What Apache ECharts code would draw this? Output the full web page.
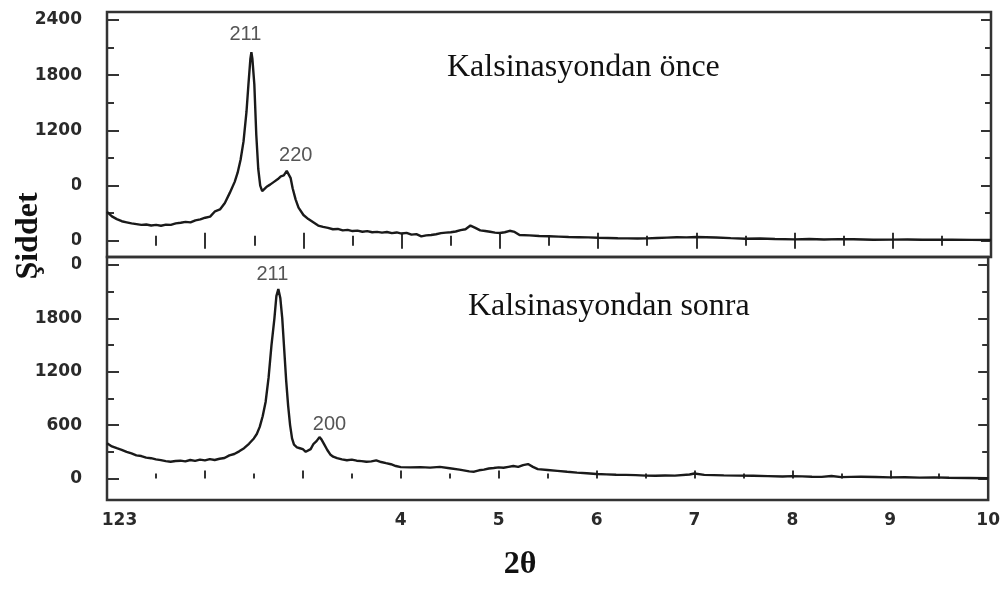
<!DOCTYPE html>
<html><head><meta charset="utf-8">
<script src="https://cdn.jsdelivr.net/npm/echarts@6/dist/echarts.min.js"></script>
<style>html,body{margin:0;padding:0;background:#fff}#c{width:1003px;height:605px}</style>
</head><body><div id="c"></div>
<script>
// ---- data ----
const xBefore = [1.00,1.05,1.10,1.15,1.20,1.25,1.30,1.35,1.40,1.45,1.50,1.55,1.60,1.65,1.70,1.75,1.80,1.85,1.90,1.95,2.00,2.05,2.10,2.15,2.20,2.25,2.30,2.33,2.36,2.39,2.42,2.44,2.46,2.47,2.48,2.50,2.52,2.54,2.56,2.58,2.60,2.63,2.66,2.70,2.74,2.77,2.80,2.83,2.85,2.87,2.89,2.92,2.95,3.00,3.05,3.10,3.15,3.20,3.25,3.30,3.35,3.40,3.45,3.50,3.55,3.60,3.65,3.70,3.75,3.80,3.85,3.90,3.95,4.00,4.05,4.10,4.15,4.20,4.25,4.30,4.35,4.40,4.45,4.50,4.55,4.60,4.65,4.70,4.75,4.80,4.85,4.90,4.95,5.00,5.05,5.10,5.15,5.20,5.30,5.40,5.50,5.60,5.70,5.80,5.90,6.00,6.10,6.20,6.30,6.40,6.50,6.60,6.70,6.80,6.90,7.00,7.10,7.20,7.35,7.50,7.65,7.80,8.00,8.15,8.30,8.45,8.60,8.80,9.00,9.15,9.30,9.45,9.60,9.80,10.00];
const yBefore = [315,265,235,212,200,188,180,172,176,166,172,163,175,172,188,196,205,200,222,232,250,262,320,340,410,520,640,740,880,1080,1400,1700,1980,2050,1980,1700,1150,780,600,540,560,590,610,640,670,700,710,760,750,680,570,450,360,280,235,200,165,150,140,125,128,112,118,105,110,98,104,92,96,88,95,82,90,78,86,66,72,48,58,62,70,82,88,92,100,115,125,165,140,112,106,98,88,84,92,108,96,62,58,52,48,44,40,38,36,32,30,27,26,24,26,30,34,38,36,40,38,35,28,22,24,18,15,18,14,17,16,10,12,14,10,12,11,9,8];
const xAfter = [1.00,1.05,1.10,1.15,1.20,1.25,1.30,1.35,1.40,1.45,1.50,1.55,1.60,1.65,1.70,1.75,1.80,1.85,1.90,1.95,2.00,2.05,2.10,2.15,2.20,2.25,2.30,2.35,2.40,2.45,2.50,2.53,2.56,2.59,2.62,2.65,2.68,2.71,2.73,2.75,2.77,2.79,2.81,2.83,2.85,2.87,2.89,2.91,2.94,2.97,3.00,3.03,3.05,3.08,3.11,3.14,3.17,3.19,3.22,3.25,3.28,3.31,3.35,3.40,3.45,3.50,3.55,3.60,3.65,3.70,3.75,3.80,3.85,3.90,3.95,4.00,4.10,4.20,4.30,4.40,4.50,4.60,4.70,4.75,4.80,4.85,4.90,4.95,5.00,5.05,5.10,5.15,5.20,5.25,5.30,5.35,5.40,5.50,5.60,5.70,5.80,5.90,6.00,6.10,6.20,6.30,6.40,6.50,6.60,6.70,6.80,6.95,7.00,7.10,7.20,7.30,7.45,7.60,7.75,7.90,8.00,8.10,8.20,8.30,8.40,8.50,8.60,8.70,8.85,9.00,9.15,9.30,9.45,9.60,9.80,10.00];
const yAfter = [396,360,340,322,300,282,260,252,235,228,215,206,195,188,196,200,192,208,198,212,204,218,208,222,230,260,275,305,340,390,450,500,580,700,860,1130,1500,1800,2050,2130,2030,1800,1450,1100,820,600,450,380,350,340,330,300,285,330,390,420,465,440,380,320,270,245,228,215,205,212,200,195,188,192,204,185,172,160,140,128,125,128,122,130,115,100,80,76,92,100,112,118,125,120,130,140,130,150,162,130,105,95,85,75,66,58,50,46,42,40,38,32,30,34,32,45,56,40,38,35,32,30,26,22,26,24,20,18,28,15,18,20,16,12,14,10,12,8,6,3];
const yMajorTicks = [0, 600, 1200, 1800, 2400];
const yMinorTicks = [300, 900, 1500, 2100];
const xTickLabels = {1:'123', 2:'', 3:'', 4:'4', 5:'5', 6:'6', 7:'7', 8:'8', 9:'9', 10:'10'};
const peaksBefore = [{name:'211', x:2.47, y:2050}, {name:'220', x:2.83, y:760}];
const peaksAfter = [{name:'211', x:2.75, y:2130}, {name:'200', x:3.17, y:465}];
const panelTitles = ['Kalsinasyondan önce', 'Kalsinasyondan sonra'];
const yAxisTitle = 'Şiddet';
const xAxisTitle = '2θ';

// ---- layout / style ----
const AX = '#333';
const labelFont = {fontFamily:'DejaVu Sans', fontWeight:'bold', fontSize:17, color:'#2a2a2a'};
const rangeUp = [-177, 2487];
const rangeLo = [-242, 2490];
const offBefore = [[-6,-18],[9,-15]];
const offAfter = [[-6,-15],[10,-13]];

function xAx(grid, pos, labels){
  return {type:'value', gridIndex:grid, position:pos, min:1, max:10, interval:1,
    axisLine:{show:false}, splitLine:{show:false},
    axisTick:{show:true, inside:true, length:8, lineStyle:{color:AX, width:2}},
    minorTick:{show:true, splitNumber:2, length:5, lineStyle:{color:AX, width:2}},
    axisLabel: labels ? Object.assign({show:true, margin:12,
        formatter: v => v===1 ? '{a|'+xTickLabels[v]+'}' : (xTickLabels[v] ?? ''),
        rich:{a:Object.assign({padding:[0,0,0,25]}, labelFont)}}, labelFont) : {show:false}};
}
function yAx(grid, pos, range, values, len, labels){
  return {type:'value', gridIndex:grid, position:pos, min:range[0], max:range[1],
    axisLine:{show:false}, splitLine:{show:false},
    axisTick:{show:true, inside:true, length:len, customValues:values, lineStyle:{color:AX, width:2}},
    axisLabel: labels ? Object.assign({show:true, margin:25, customValues:values, formatter:v=>String(v)}, labelFont) : {show:false}};
}
function peakMarks(peaks, offs){
  return {symbol:'circle', symbolSize:0, animation:false,
    label:{show:true, position:'inside', fontFamily:'Liberation Sans', fontSize:20, color:'#555', formatter:p=>p.name},
    data: peaks.map((p,i)=>({name:p.name, coord:[p.x,p.y], label:{offset:offs[i]}}))};
}

const chart = echarts.init(document.getElementById('c'), null, {renderer:'canvas'});
chart.setOption({
  animation:false,
  backgroundColor:'#fff',
  grid:[
    {left:107, top:12, right:12, height:245, show:true, borderColor:AX, borderWidth:2.5, backgroundColor:'transparent'},
    {left:107, top:257, right:12, height:243, show:true, borderColor:AX, borderWidth:2.5, backgroundColor:'transparent'}
  ],
  xAxis:[ xAx(0,'bottom',false), xAx(0,'top',false), xAx(1,'bottom',true) ],
  yAxis:[
    yAx(0,'left',rangeUp,yMajorTicks,12,true),
    yAx(0,'left',rangeUp,yMinorTicks,7,false),
    yAx(0,'right',rangeUp,yMajorTicks,10,false),
    yAx(0,'right',rangeUp,yMinorTicks,6,false),
    yAx(1,'left',rangeLo,yMajorTicks,12,true),
    yAx(1,'left',rangeLo,yMinorTicks,7,false),
    yAx(1,'right',rangeLo,yMajorTicks,10,false),
    yAx(1,'right',rangeLo,yMinorTicks,6,false)
  ],
  series:[
    {type:'line', xAxisIndex:0, yAxisIndex:0, showSymbol:false, symbol:'none',
     lineStyle:{color:'#1a1a1a', width:2.4}, data:xBefore.map((x,i)=>[x,yBefore[i]]),
     markPoint:peakMarks(peaksBefore, offBefore)},
    {type:'line', xAxisIndex:2, yAxisIndex:4, showSymbol:false, symbol:'none',
     lineStyle:{color:'#1a1a1a', width:2.4}, data:xAfter.map((x,i)=>[x,yAfter[i]]),
     markPoint:peakMarks(peaksAfter, offAfter)}
  ],
  graphic:[
    {type:'text', x:447, y:68, z:50, style:{text:panelTitles[0], font:'32px "Liberation Serif"', fill:'#111', align:'left', verticalAlign:'middle'}},
    {type:'text', x:468, y:307, z:50, style:{text:panelTitles[1], font:'32px "Liberation Serif"', fill:'#111', align:'left', verticalAlign:'middle'}},
    {type:'rect', z:100, shape:{x:0, y:150, width:72, height:150}, style:{fill:'#fff'}},
    {type:'text', z:101, x:29, y:236, rotation:Math.PI/2, style:{text:yAxisTitle, font:'bold 32px "Liberation Serif"', fill:'#111', align:'center', verticalAlign:'middle'}},
    {type:'text', z:101, x:520, y:565, style:{text:xAxisTitle, font:'bold 32px "Liberation Serif"', fill:'#111', align:'center', verticalAlign:'middle'}}
  ]
});
</script></body></html>
